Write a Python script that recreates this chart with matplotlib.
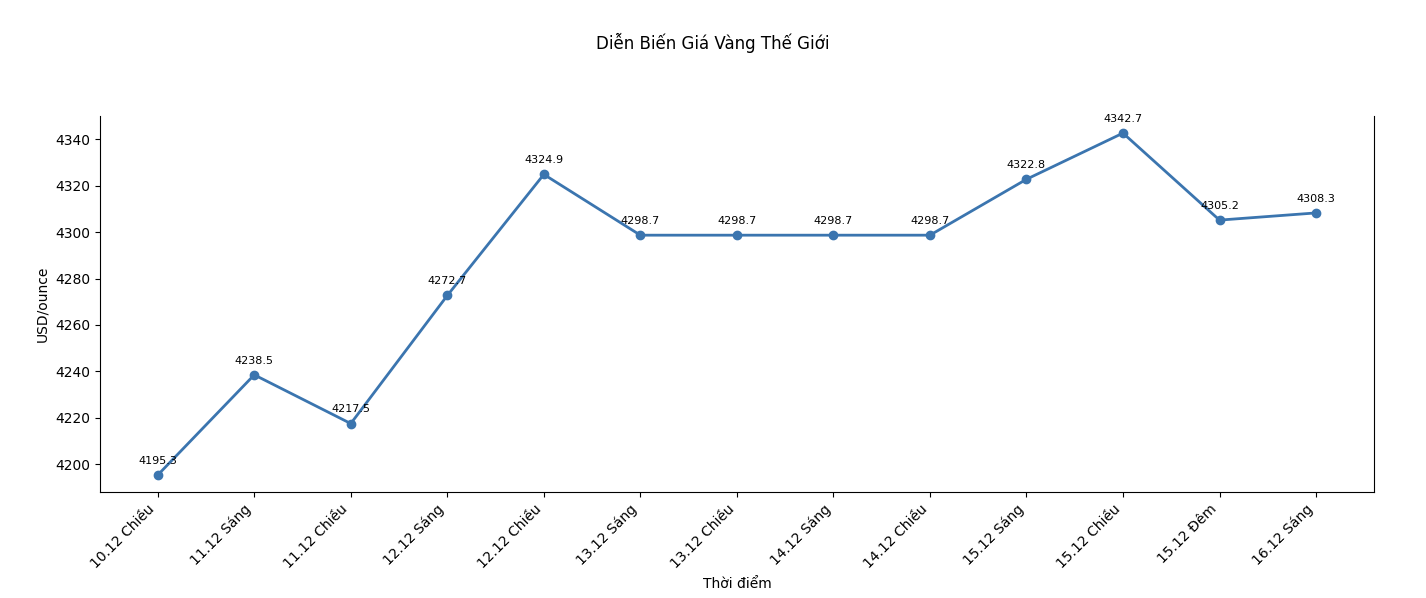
import matplotlib
matplotlib.use("Agg")
import matplotlib.pyplot as plt

labels = ["10.12 Chiều", "11.12 Sáng", "11.12 Chiều", "12.12 Sáng", "12.12 Chiều",
          "13.12 Sáng", "13.12 Chiều", "14.12 Sáng", "14.12 Chiều", "15.12 Sáng",
          "15.12 Chiều", "15.12 Đêm", "16.12 Sáng"]
prices = [4195.3, 4238.5, 4217.5, 4272.7, 4324.9, 4298.7, 4298.7, 4298.7, 4298.7,
          4322.8, 4342.7, 4305.2, 4308.3]

fig = plt.figure(figsize=(14.26, 5.98), dpi=100)
ax = fig.add_axes([0.070, 0.177, 0.8935, 0.629])
x = list(range(len(labels)))
ax.plot(x, prices, color="#3b75af", linewidth=2, marker="o", markersize=6)
for xi, v in zip(x, prices):
    ax.annotate(f"{v}", (xi, v), textcoords="offset points", xytext=(0, 8),
                ha="center", fontsize=8)
ax.set_xticks(x)
ax.set_xticklabels(labels, rotation=45, ha="right")
ax.spines["top"].set_visible(False)
ax.set_xlabel("Thời điểm")
ax.set_ylabel("USD/ounce")
fig.suptitle("Diễn Biến Giá Vàng Thế Giới", y=0.945, fontsize=12)
fig.savefig("out.png", dpi=100)
